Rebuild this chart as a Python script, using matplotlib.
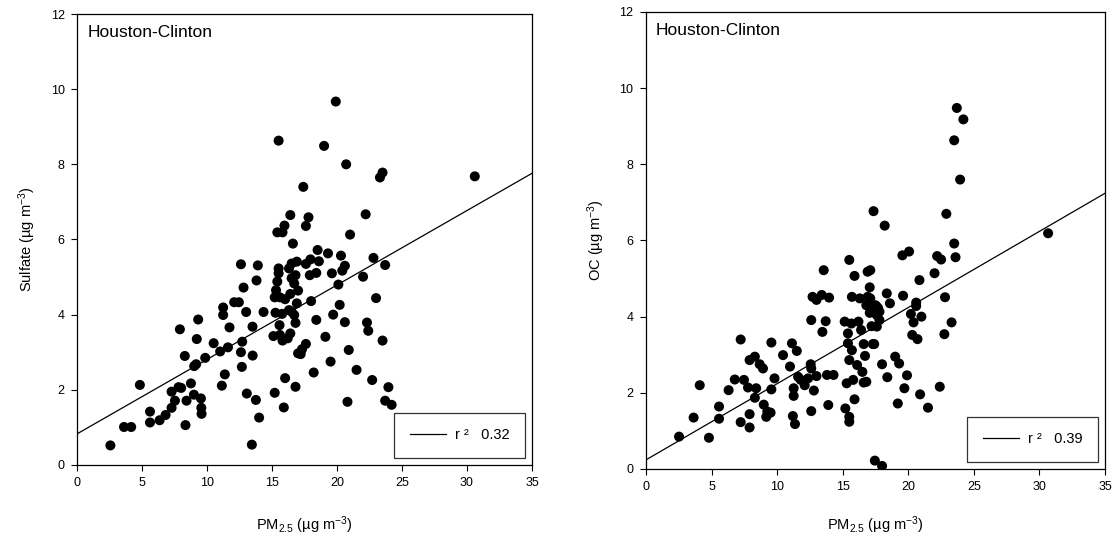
import numpy as np
import matplotlib
matplotlib.use("Agg")
import matplotlib.pyplot as plt

plt.rcParams["font.family"] = ["Liberation Sans", "DejaVu Sans"]
plt.rcParams["mathtext.default"] = "regular"

site = "Houston-Clinton"

# ---- PM2.5 vs sulfate (ug m-3) ----
sulfate_pm = [
    2.55, 3.6, 4.15, 4.82, 5.6, 5.6, 6.34, 6.8, 7.26, 7.26, 7.52, 7.8, 8.0, 7.9,
    8.28, 8.33, 8.41, 8.75, 8.98, 9.0, 9.15, 9.2, 9.31, 9.52, 9.55, 9.57, 9.85,
    10.5, 11.0, 11.13, 11.23, 11.23, 11.36, 11.6, 11.72, 12.08, 12.44, 12.6,
    12.7, 12.67, 12.8, 13.0, 13.05, 13.49, 13.5, 13.75, 13.8, 13.44, 14.0,
    14.34, 12.6, 13.9,
    15.5, 15.95, 15.4, 15.8, 16.4, 16.6, 15.5, 15.5, 15.4, 15.3, 15.2, 15.6,
    16.3, 16.5, 16.9, 16.5, 16.7, 16.4, 16.0, 16.9, 15.26, 15.77, 16.3, 16.5,
    16.8, 15.57, 15.1, 15.6, 15.8, 16.2, 16.4, 17.0, 16.0, 16.8, 15.2, 15.9,
    16.8, 17.0, 16.7,
    17.6, 17.95, 18.6, 17.9, 18.4, 19.6, 22.0, 20.4, 20.6, 20.1, 18.0, 20.2,
    23.0, 18.4, 19.7, 20.6, 22.3, 22.4, 19.1, 23.5, 17.6, 17.3, 17.2, 20.9,
    19.5, 18.2, 21.5, 22.7, 23.95, 20.8, 23.7, 24.2,
    19.9, 19.0, 17.4, 20.7, 23.3, 23.5, 30.6, 17.8, 17.6, 22.2, 21.0, 18.5,
    19.3, 20.3, 22.8, 23.7,
]
sulfate_val = [
    0.52, 1.01, 1.01, 2.13, 1.42, 1.13, 1.19, 1.33, 1.52, 1.95, 1.71, 2.07, 2.05, 3.61,
    2.9, 1.06, 1.71, 2.17, 1.87, 2.63, 2.68, 3.35, 3.87, 1.77, 1.52, 1.36, 2.85,
    3.24, 3.02, 2.11, 4.19, 3.99, 2.41, 3.13, 3.66, 4.33, 4.33, 3.0,
    3.28, 2.61, 4.72, 4.07, 1.9, 3.68, 2.91, 1.73, 4.91, 0.54, 1.26,
    4.07, 5.34, 5.31,
    8.63, 6.37, 6.19, 6.19, 6.65, 5.89, 5.23, 5.1, 4.88, 4.65, 4.46, 4.46,
    5.23, 5.36, 5.41, 4.97, 4.83, 4.55, 4.41, 4.3, 4.05, 4.02, 4.12, 4.08,
    3.78, 3.72, 3.43, 3.46, 3.31, 3.37, 3.5, 2.97, 2.31, 2.08, 1.92, 1.53,
    5.05, 4.64, 3.99,
    5.35, 5.47, 5.42, 5.05, 5.11, 5.1, 5.01, 5.17, 5.3, 4.8, 4.36, 4.26,
    4.44, 3.86, 4.0, 3.8, 3.79, 3.57, 3.41, 3.31, 3.22, 3.08, 2.95, 3.06,
    2.75, 2.46, 2.53, 2.26, 2.07, 1.68, 1.71, 1.6,
    9.67, 8.49, 7.4, 8.0, 7.65, 7.78, 7.68, 6.59, 6.36, 6.67, 6.13, 5.72,
    5.63, 5.57, 5.51, 5.32,
]
sulfate_fit = (0.83, 0.198)   # intercept, slope
sulfate_r2 = 0.32

# ---- PM2.5 vs OC (ug m-3) ----
oc_pm = [
    2.52, 4.8, 3.63, 4.1, 5.57, 5.57, 6.3, 6.77, 7.22, 7.22, 7.47, 7.78, 7.9,
    8.3, 7.9, 7.9, 8.3, 8.4, 8.67, 8.92, 8.98, 9.25, 9.5, 9.17, 9.56, 9.56,
    9.8, 10.45, 10.98, 11.13, 11.5, 11.26, 11.26, 11.2, 11.36, 11.6, 11.8,
    12.1, 12.36, 12.56, 12.6, 12.8, 12.6, 13.0, 13.8, 14.3, 13.9, 12.6, 12.7,
    13.0, 13.4, 13.96, 13.7, 13.45, 13.55,
    15.2, 15.5, 15.5, 15.9, 15.15, 15.66, 15.4, 15.4, 15.7, 15.5, 16.1, 16.5,
    15.3, 15.8, 16.6, 16.8, 16.7, 16.2, 16.4, 16.6, 15.7, 16.3, 16.9, 15.9,
    16.9, 17.06, 16.8, 17.06, 17.6, 17.4, 17.45, 15.5,
    22.0, 20.85, 18.36, 18.6, 19.6, 20.6, 20.6, 22.8, 17.1, 17.5, 17.7, 17.8,
    17.6, 17.8, 17.2, 17.3, 17.2, 17.6, 17.3, 20.2, 20.4, 21.0, 23.3, 22.75,
    20.3, 20.7, 19.0, 19.3, 18.0, 19.9, 18.4, 19.7, 22.4, 20.9, 19.2, 21.5,
    18.0,
    23.7, 24.2, 23.5, 23.95, 22.9, 17.35, 18.2, 23.5, 19.55, 20.06, 22.2,
    22.5, 23.6, 30.66, 17.1,
]
oc_val = [
    0.85, 0.82, 1.35, 2.2, 1.64, 1.32, 2.07, 2.35, 3.4, 1.23, 2.34, 2.14, 2.86,
    2.95, 1.44, 1.09, 1.87, 2.12, 2.75, 2.64, 1.69, 1.51, 1.48, 1.37, 3.32, 2.09,
    2.38, 2.99, 2.69, 3.3, 3.1, 2.12, 1.92, 1.39, 1.18, 2.42, 2.34,
    2.2, 2.38, 2.75, 2.64, 2.06, 1.52, 2.44, 2.47, 2.47, 1.68, 3.91, 4.52,
    4.44, 4.57, 4.5, 3.88, 3.6, 5.22,
    1.59, 1.37, 1.24, 1.83, 3.87, 3.82, 3.56, 3.3, 3.12, 2.86, 2.73, 2.55,
    2.25, 2.34, 2.27, 2.29, 2.97, 3.87, 3.65, 3.28, 4.52, 4.48, 4.52, 5.07,
    5.18, 4.77, 4.3, 4.1, 4.26, 3.28, 0.22, 5.49,
    5.14, 4.96, 4.61, 4.35, 4.55, 4.37, 4.28, 4.51, 4.48, 4.3, 4.22, 4.13,
    4.04, 3.91, 4.22, 4.13, 3.75, 3.74, 3.28, 4.07, 3.85, 4.0, 3.85, 3.54,
    3.52, 3.41, 2.95, 2.77, 2.75, 2.46, 2.41, 2.12, 2.16, 1.96, 1.72, 1.61,
    0.08,
    9.48, 9.18, 8.63, 7.6, 6.7, 6.77, 6.39, 5.92, 5.61, 5.71, 5.59,
    5.5, 5.56, 6.19, 5.22,
]
oc_fit = (0.24, 0.200)
oc_r2 = 0.39

x_ticks = [0, 5, 10, 15, 20, 25, 30, 35]
y_ticks = [0, 2, 4, 6, 8, 10, 12]


def draw_panel(ax, pm, val, fit, r2, ylabel, xlabelpad):
    ax.scatter(pm, val, s=52, color="black", edgecolors="none", zorder=3)
    xs = np.array([0, 35])
    ax.plot(xs, fit[0] + fit[1] * xs, color="black", lw=0.9,
            label=f"r \u00b2   {r2:.2f}", zorder=2)
    ax.set_xlim(0, 35)
    ax.set_ylim(0, 12)
    ax.set_xticks(x_ticks)
    ax.set_yticks(y_ticks)
    ax.tick_params(direction="out", length=4, width=0.8, labelsize=9, pad=5)
    for sp in ax.spines.values():
        sp.set_linewidth(0.9)
    ax.set_xlabel("PM$_{2.5}$ (µg m$^{-3}$)", fontsize=10.5, labelpad=xlabelpad)
    ax.set_ylabel(ylabel, fontsize=10.5, labelpad=9)
    ax.text(0.022, 0.975, site, transform=ax.transAxes, fontsize=12.5,
            va="top", ha="left")
    leg = ax.legend(loc="lower right", fontsize=10.5, frameon=True,
                    fancybox=False, borderpad=1.05, handlelength=2.5,
                    handletextpad=0.6, borderaxespad=0.5)
    leg.get_frame().set_edgecolor("black")
    leg.get_frame().set_linewidth(0.9)


fig = plt.figure(figsize=(11.18, 5.47), dpi=100)
ax1 = fig.add_axes([0.0691, 0.150, 0.4067, 0.8244])
ax2 = fig.add_axes([0.5778, 0.1426, 0.4106, 0.8355])

draw_panel(ax1, sulfate_pm, sulfate_val, sulfate_fit, sulfate_r2,
           "Sulfate (µg m$^{-3}$)", 18)
draw_panel(ax2, oc_pm, oc_val, oc_fit, oc_r2,
           "OC (µg m$^{-3}$)", 15)

fig.savefig("out.png", dpi=100)
